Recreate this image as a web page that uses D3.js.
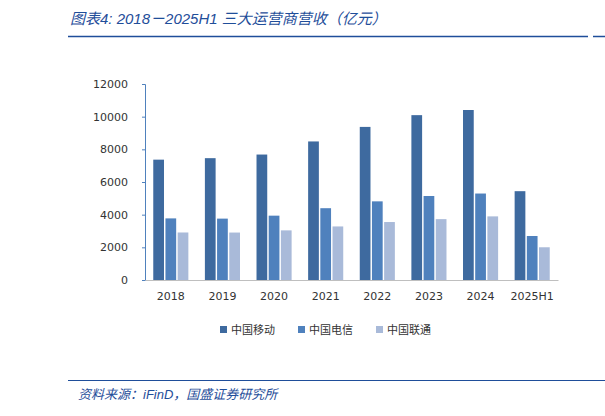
<!DOCTYPE html>
<html><head><meta charset="utf-8">
<script src="https://cdn.jsdelivr.net/npm/d3@7"></script>
<style>body{margin:0;background:#fff}</style>
</head><body>
<svg id="c" width="605" height="416"></svg>
<script>
// data
var years = ['2018','2019','2020','2021','2022','2023','2024','2025H1'];
var seriesNames = ['中国移动','中国电信','中国联通'];
var mobile  = [7368, 7459, 7681, 8483, 9373, 10093, 10408, 5438];
var telecom = [3772, 3758, 3939, 4396, 4815, 5143, 5294, 2694];
var unicom  = [2909, 2905, 3039, 3279, 3549, 3726, 3895, 2004];
var yTicks = [0, 2000, 4000, 6000, 8000, 10000, 12000];
var colors = ['#3e6a9f', '#4f81bd', '#a9bad9'];

var svg = d3.select('#c');
var blue = '#1f4e9a';

// title
svg.append('text').attr('x', 70).attr('y', 24)
  .attr('font-family', 'Liberation Sans, Noto Sans CJK SC').attr('font-style', 'italic')
  .attr('font-size', 15).attr('fill', blue)
  .text('图表4:  2018－2025H1 三大运营商营收（亿元）');
svg.append('line').attr('x1', 68).attr('x2', 588).attr('y1', 36.5).attr('y2', 36.5)
  .attr('stroke', blue).attr('stroke-width', 1.5);
svg.append('line').attr('x1', 593).attr('x2', 605).attr('y1', 36.5).attr('y2', 36.5)
  .attr('stroke', blue).attr('stroke-width', 1.5);

var x = d3.scaleBand().domain(years).range([145, 558]).paddingInner(0.32).paddingOuter(0.16);
var sub = d3.scaleBand().domain([0, 1, 2]).range([0, x.bandwidth()]).paddingInner(0.12);
var y = d3.scaleLinear().domain([0, 12000]).range([280, 84]);

var all = [mobile, telecom, unicom];
all.forEach(function (vals, s) {
  svg.append('g').selectAll('rect').data(vals).enter().append('rect')
    .attr('x', function (d, i) { return x(years[i]) + sub(s); })
    .attr('width', sub.bandwidth())
    .attr('y', function (d) { return y(d); })
    .attr('height', function (d) { return 280 - y(d); })
    .attr('fill', colors[s]);
});

var ya = svg.append('g').attr('transform', 'translate(145,0)')
  .call(d3.axisLeft(y).tickValues(yTicks).tickSize(3).tickPadding(14).tickFormat(d3.format('d')));
var xa = svg.append('g').attr('transform', 'translate(0,280)')
  .call(d3.axisBottom(x).tickSize(0).tickPadding(12));
[ya, xa].forEach(function (a) {
  a.select('.domain').attr('stroke', '#4f81bd');
  a.selectAll('line').attr('stroke', '#4f81bd');
  a.selectAll('text').attr('font-family', 'DejaVu Sans').attr('font-size', 11).attr('fill', '#333');
});
xa.select('.domain').attr('stroke', '#bfbfbf');

// legend
var lg = svg.append('g').selectAll('g').data(seriesNames).enter().append('g')
  .attr('transform', function (d, i) { return 'translate(' + (220 + i * 78) + ',330)'; });
lg.append('rect').attr('x', 0).attr('y', -4).attr('width', 7).attr('height', 7)
  .attr('fill', function (d, i) { return colors[i]; });
lg.append('text').attr('x', 11).attr('y', 4).attr('font-size', 11)
  .attr('font-family', 'Noto Sans CJK SC').attr('fill', '#333').text(function (d) { return d; });

// footer
svg.append('line').attr('x1', 68).attr('x2', 605).attr('y1', 380.5).attr('y2', 380.5)
  .attr('stroke', blue).attr('stroke-width', 1);
svg.append('text').attr('x', 78).attr('y', 399)
  .attr('font-family', 'Liberation Sans, Noto Sans CJK SC').attr('font-style', 'italic')
  .attr('font-size', 13).attr('fill', blue).text('资料来源：iFinD，国盛证券研究所');
</script>
</body></html>
